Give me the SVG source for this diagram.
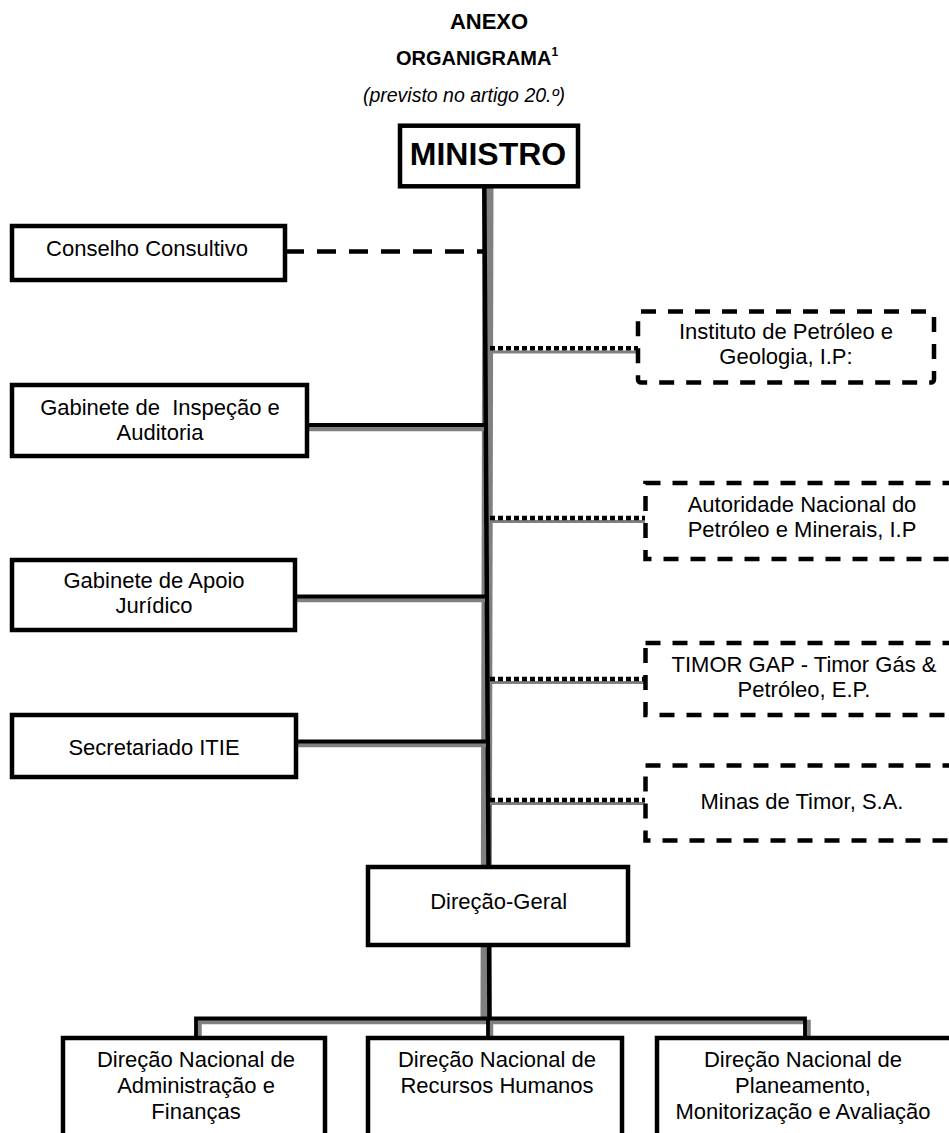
<svg xmlns="http://www.w3.org/2000/svg" width="949" height="1133" viewBox="0 0 949 1133">
<style>
.t{font-family:"Liberation Sans",Arial,sans-serif;font-size:22px;text-anchor:middle;fill:#000}
.b{font-weight:bold}
.box{fill:#fff;stroke:#000;stroke-width:4.5}
.dbox{fill:#fff;stroke:#000;stroke-width:4.5;stroke-dasharray:15 12}
.ln{stroke:#000;stroke-width:3.8;fill:none}
.sh{stroke:#808080;stroke-width:4.5;fill:none}
.dot{stroke:#000;stroke-width:4.5;stroke-dasharray:5 3;fill:none}
.dash{stroke:#000;stroke-width:4.5;stroke-dasharray:19 13;fill:none}
</style>
<rect width="949" height="1133" fill="#fff"/>
<g id="title">
<text class="t b" x="489" y="29">ANEXO</text>
<text class="t b" x="477" y="65" style="font-size:20px">ORGANIGRAMA<tspan style="font-size:12px" dy="-9">1</tspan></text>
<text class="t" x="464" y="102" font-style="italic" style="font-size:19.5px">(previsto no artigo 20.º)</text>
</g>
<g id="connectors">
<line class="sh" x1="488" y1="187" x2="486" y2="1020" style="stroke-width:11"/>
<line class="ln" x1="484.3" y1="187" x2="489.5" y2="1020" style="stroke-width:4.5"/>
<line class="dash" x1="285" y1="251.5" x2="484" y2="251.5"/>
<line class="sh" x1="307" y1="429" x2="484" y2="429"/>
<line class="ln" x1="307" y1="425" x2="484" y2="425"/>
<line class="sh" x1="295" y1="600" x2="485" y2="600"/>
<line class="ln" x1="295" y1="596.5" x2="485" y2="596.5"/>
<line class="sh" x1="296" y1="745" x2="486" y2="745"/>
<line class="ln" x1="296" y1="741.5" x2="486" y2="741.5"/>
<line class="sh" x1="490" y1="352" x2="638" y2="352" style="stroke-width:3"/>
<line class="dot" x1="490" y1="348.3" x2="638" y2="348.3"/>
<line class="sh" x1="490" y1="521.5" x2="645" y2="521.5" style="stroke-width:3"/>
<line class="dot" x1="490" y1="518" x2="645" y2="518"/>
<line class="sh" x1="490" y1="682.5" x2="645" y2="682.5" style="stroke-width:3"/>
<line class="dot" x1="490" y1="679" x2="645" y2="679"/>
<line class="sh" x1="490" y1="803.5" x2="645" y2="803.5" style="stroke-width:3"/>
<line class="dot" x1="490" y1="800" x2="645" y2="800"/>
<path class="sh" d="M199.5 1038 V1022 H808.5 V1038 M491 1022 V1038"/>
<path class="ln" d="M196 1038 V1018.5 H805 V1038 M488 1018.5 V1038"/>
</g>
<g id="ministro">
<rect class="box" x="400" y="125.7" width="178" height="60.6"/>
<text class="t b" x="488" y="165" style="font-size:32px">MINISTRO</text>
</g>
<g id="conselho">
<rect class="box" x="12" y="226" width="273" height="54"/>
<text class="t" x="147" y="256">Conselho Consultivo</text>
</g>
<g id="instituto">
<rect class="dbox" x="638" y="311.5" width="296" height="71" rx="3"/>
<text class="t" x="786" y="339">Instituto de Petróleo e</text>
<text class="t" x="786" y="364">Geologia, I.P:</text>
</g>
<g id="inspecao">
<rect class="box" x="12" y="385" width="295" height="71"/>
<text class="t" x="160" y="415" xml:space="preserve">Gabinete de  Inspeção e</text>
<text class="t" x="160" y="440">Auditoria</text>
</g>
<g id="autoridade">
<rect class="dbox" x="645.5" y="483" width="316" height="76"/>
<text class="t" x="802" y="512">Autoridade Nacional do</text>
<text class="t" x="802" y="537">Petróleo e Minerais, I.P</text>
</g>
<g id="apoio">
<rect class="box" x="12" y="560" width="283" height="70"/>
<text class="t" x="154" y="588">Gabinete de Apoio</text>
<text class="t" x="154" y="613">Jurídico</text>
</g>
<g id="timorgap">
<rect class="dbox" x="645.5" y="643" width="316" height="72"/>
<text class="t" x="804" y="672">TIMOR GAP - Timor Gás &amp;</text>
<text class="t" x="804" y="697">Petróleo, E.P.</text>
</g>
<g id="itie">
<rect class="box" x="12" y="715" width="284" height="62"/>
<text class="t" x="154" y="755">Secretariado ITIE</text>
</g>
<g id="minas">
<rect class="dbox" x="645.5" y="765.5" width="316" height="75"/>
<text class="t" x="802" y="809">Minas de Timor, S.A.</text>
</g>
<g id="direcao-geral">
<rect class="box" x="368" y="867" width="260" height="78"/>
<text class="t" x="498.7" y="909">Direção-Geral</text>
</g>
<g id="dn-af">
<rect class="box" x="63" y="1038" width="262" height="110"/>
<text class="t" x="196" y="1067">Direção Nacional de</text>
<text class="t" x="196" y="1093">Administração e</text>
<text class="t" x="196" y="1119">Finanças</text>
</g>
<g id="dn-rh">
<rect class="box" x="368" y="1038" width="254" height="110"/>
<text class="t" x="497" y="1067">Direção Nacional de</text>
<text class="t" x="497" y="1093">Recursos Humanos</text>
</g>
<g id="dn-pma">
<rect class="box" x="657" y="1038" width="310" height="110"/>
<text class="t" x="803" y="1067">Direção Nacional de</text>
<text class="t" x="803" y="1093">Planeamento,</text>
<text class="t" x="803" y="1119">Monitorização e Avaliação</text>
</g>
</svg>
